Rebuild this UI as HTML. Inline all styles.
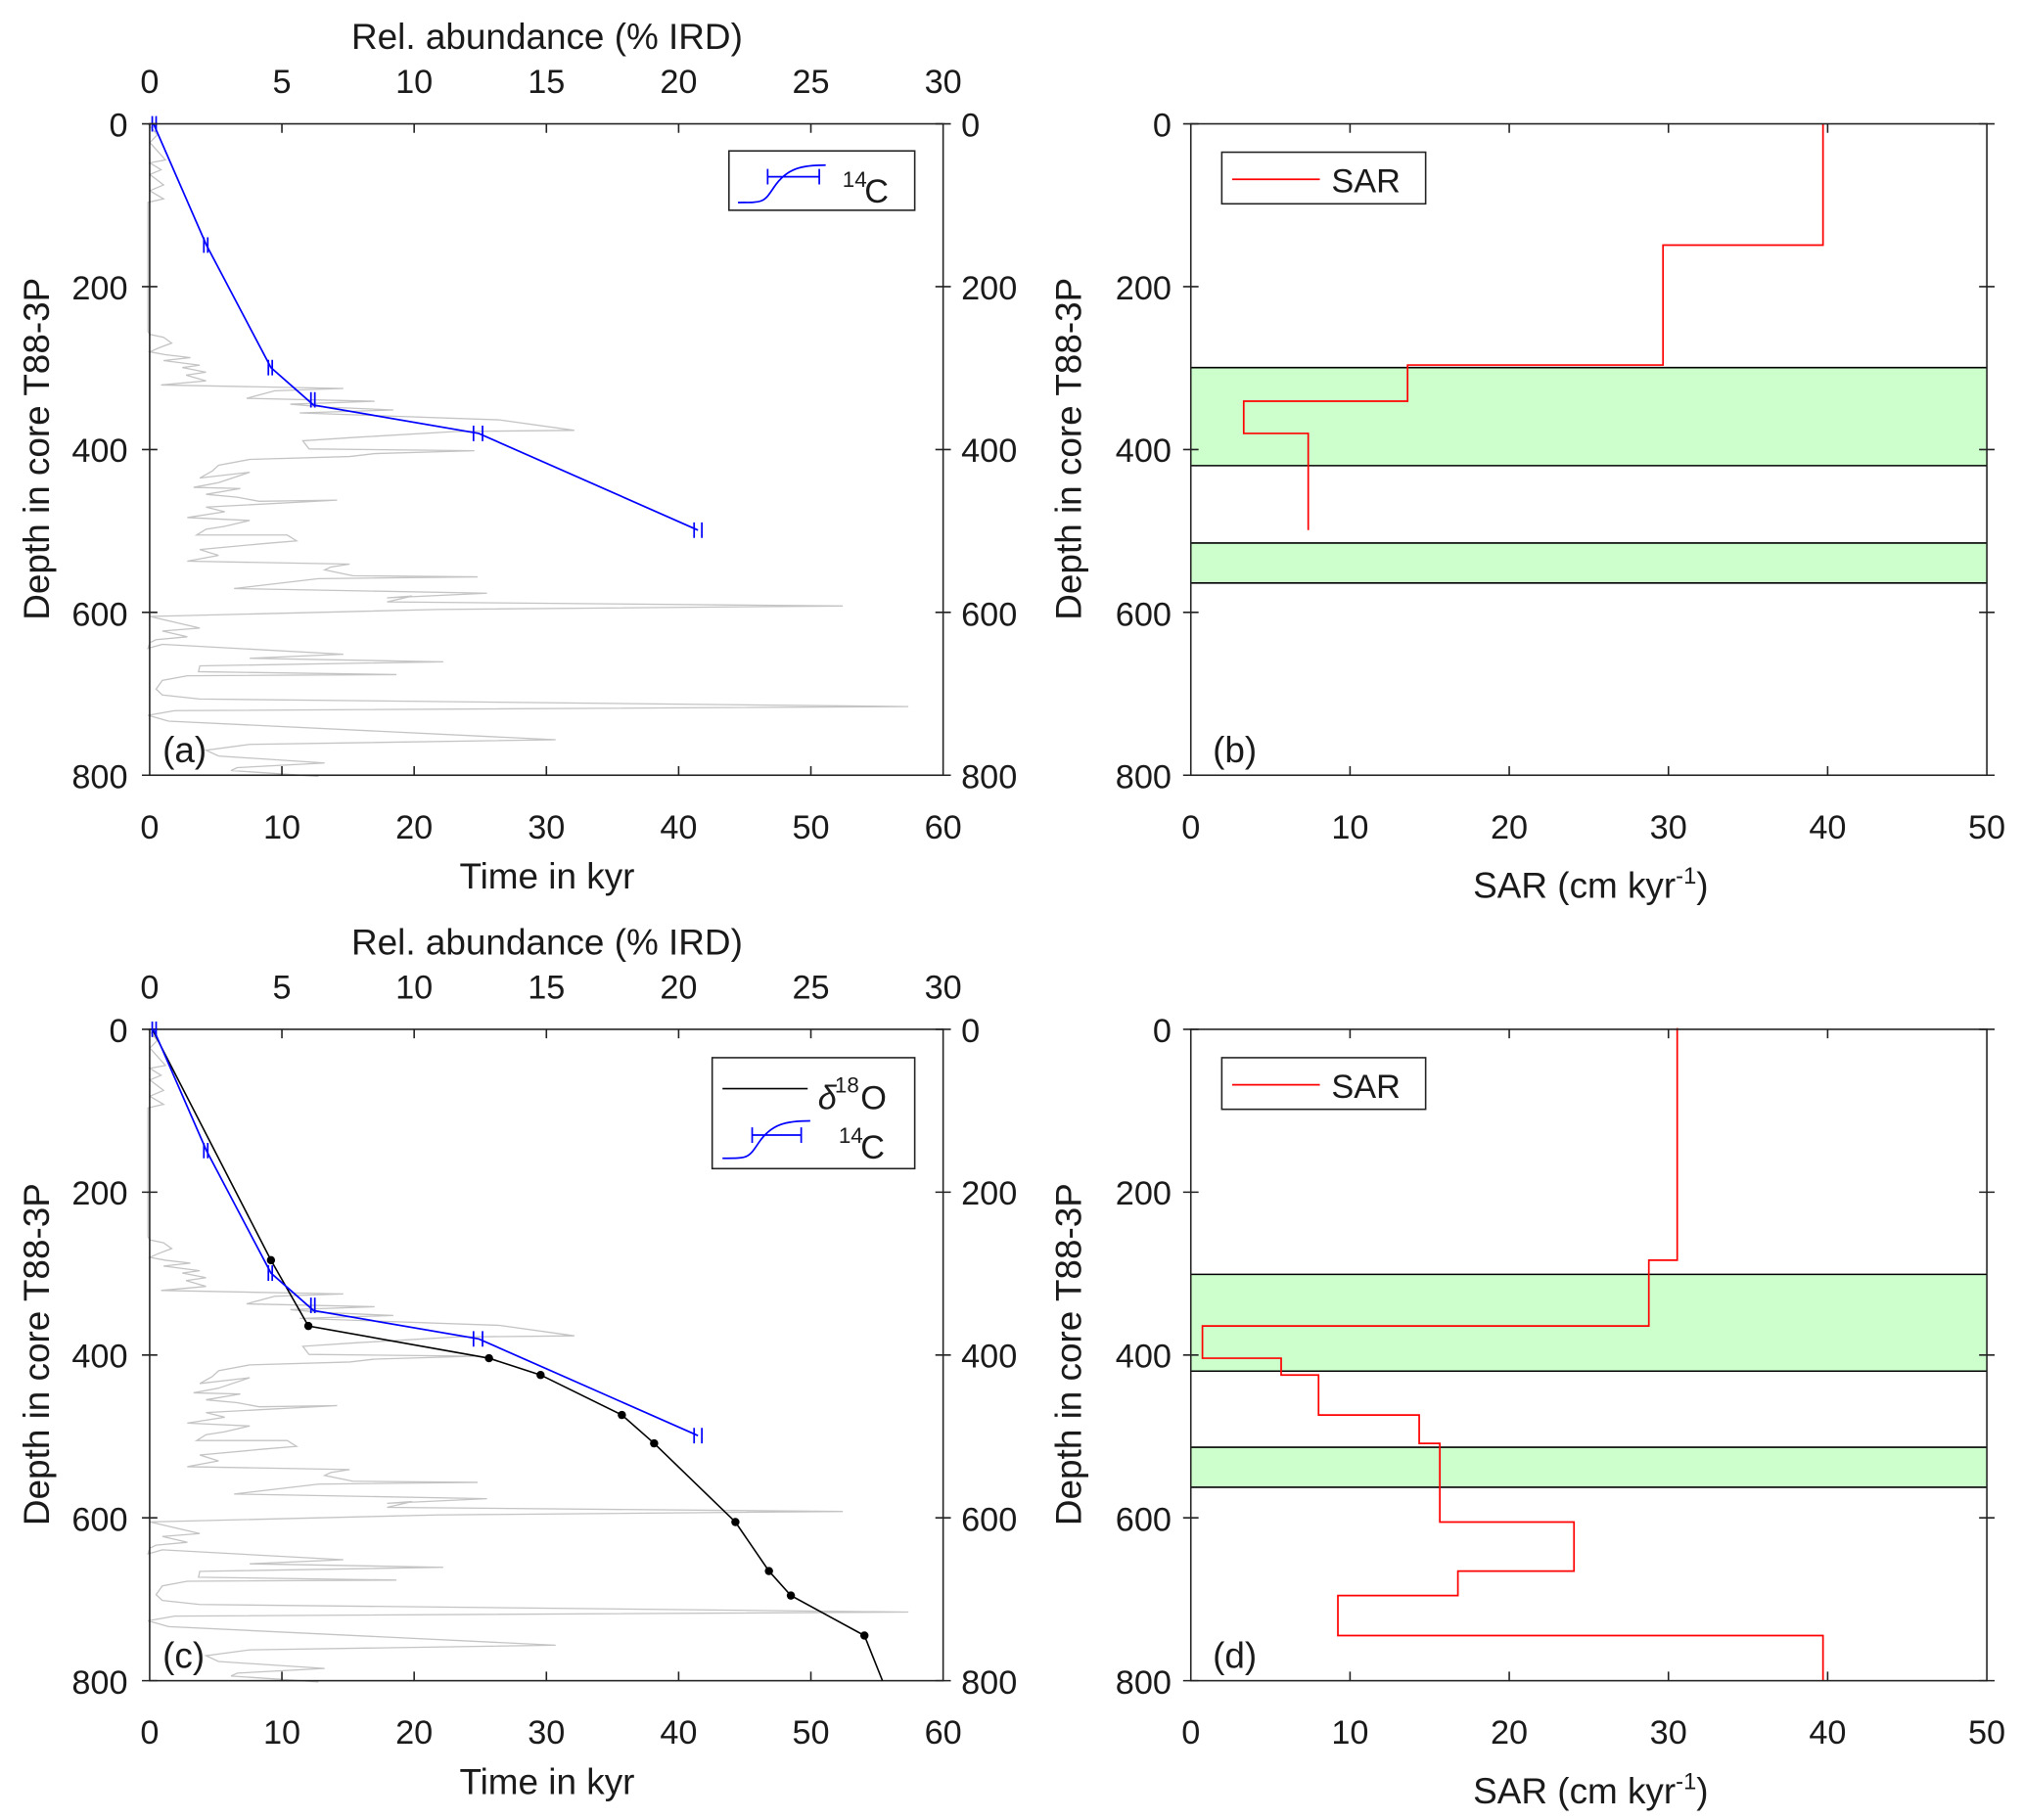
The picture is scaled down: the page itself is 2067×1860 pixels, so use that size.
<!DOCTYPE html>
<html><head><meta charset="utf-8"><style>
html,body{margin:0;padding:0;background:#fff;}
svg{display:block;}
text{font-family:"Liberation Sans",Arial,sans-serif;fill:#1a1a1a;}
.t{font-size:26px;}
.l{font-size:28px;}
.ax{fill:none;stroke:#222;stroke-width:1.2;}
.g{fill:none;stroke:#c4c4c4;stroke-width:1.3;vector-effect:non-scaling-stroke;}
.b{fill:none;stroke:#0000ff;stroke-width:1.3;}
.r{fill:none;stroke:#ff0000;stroke-width:1.3;}
.k{fill:none;stroke:#000;stroke-width:1.2;}
</style></head><body>
<svg width="2067" height="1860" viewBox="0 0 1568 1411" xmlns="http://www.w3.org/2000/svg">
<defs>
<polyline id="ird" class="g" points="237,213 252,232 240,245 265,275 240,280 258,292 240,300 262,318 240,328 262,342 237,348 237,570 240,575 262,580 275,590 255,598 240,605 265,610 305,615 262,620 320,628 292,632 330,640 298,645 330,655 258,662 550,668 440,672 395,685 600,690 465,695 520,700 630,705 480,710 800,722 920,740 730,742 570,752 485,758 495,772 760,775 600,780 560,785 400,790 350,800 340,810 320,822 400,812 350,830 310,838 385,840 330,850 380,855 415,862 540,860 330,872 360,880 300,890 400,895 360,905 330,910 315,920 460,920 475,930 420,935 320,945 350,955 300,965 560,970 530,975 520,980 565,990 765,992 510,995 375,1012 780,1020 620,1028 660,1025 620,1035 1350,1042 700,1048 240,1060 320,1080 260,1085 300,1095 250,1100 240,1105 237,1115 260,1108 550,1125 400,1132 710,1138 320,1145 318,1155 635,1160 300,1162 260,1170 250,1185 260,1195 320,1202 1455,1215 280,1222 237,1230 270,1240 890,1272 400,1280 330,1290 350,1300 520,1312 380,1320 370,1325 510,1335"/>
<g id="c14">
<polyline class="b" points="119,96 160,190 210,285 243,314 371,336 541,411"/>
<path class="b" d="M118,90v12M121,90v12M158,184v12M161,184v12M208,279v12M211,279v12M241,304v12M244,304v12M367,330v12M374,330v12M538,405v12M544,405v12"/>
</g>
<g id="lax">
<rect class="ax" x="116" y="96" width="615" height="505"/>
<path class="ax" d="M110,96h12M110,222.25h12M110,348.5h12M110,474.75h12M110,601h12M725,96h12M725,222.25h12M725,348.5h12M725,474.75h12M725,601h12
M218.5,96v7M321,96v7M423.5,96v7M526,96v7M628.5,96v7M218.5,601v-7M321,601v-7M423.5,601v-7M526,601v-7M628.5,601v-7"/>
<g class="t" text-anchor="end"><text x="99" y="106">0</text><text x="99" y="232">200</text><text x="99" y="358">400</text><text x="99" y="485">600</text><text x="99" y="611">800</text></g>
<g class="t" text-anchor="start"><text x="745" y="106">0</text><text x="745" y="232">200</text><text x="745" y="358">400</text><text x="745" y="485">600</text><text x="745" y="611">800</text></g>
<g class="t" text-anchor="middle"><text x="116" y="72">0</text><text x="218.5" y="72">5</text><text x="321" y="72">10</text><text x="423.5" y="72">15</text><text x="526" y="72">20</text><text x="628.5" y="72">25</text><text x="731" y="72">30</text>
<text x="116" y="650">0</text><text x="218.5" y="650">10</text><text x="321" y="650">20</text><text x="423.5" y="650">30</text><text x="526" y="650">40</text><text x="628.5" y="650">50</text><text x="731" y="650">60</text></g>
<text class="l" x="424" y="38" text-anchor="middle">Rel. abundance (% IRD)</text>
<text class="l" x="424" y="689" text-anchor="middle">Time in kyr</text>
<text class="l" transform="translate(38,348) rotate(-90)" text-anchor="middle">Depth in core T88-3P</text>
</g>
<g id="rax">
<path class="ax" d="M917,96h12M917,222.25h12M917,348.5h12M917,474.75h12M917,601h12M1534,96h12M1534,222.25h12M1534,348.5h12M1534,474.75h12M1534,601h12
M1046.4,96v7M1169.8,96v7M1293.2,96v7M1416.6,96v7M1046.4,601v-7M1169.8,601v-7M1293.2,601v-7M1416.6,601v-7"/>
<g class="t" text-anchor="end"><text x="908" y="106">0</text><text x="908" y="232">200</text><text x="908" y="358">400</text><text x="908" y="485">600</text><text x="908" y="611">800</text></g>
<g class="t" text-anchor="middle"><text x="923" y="650">0</text><text x="1046.4" y="650">10</text><text x="1169.8" y="650">20</text><text x="1293.2" y="650">30</text><text x="1416.6" y="650">40</text><text x="1540" y="650">50</text></g>
<text class="l" x="1233" y="696" text-anchor="middle">SAR (cm kyr<tspan font-size="18" dy="-11">-1</tspan><tspan dy="11">)</tspan></text>
<text class="l" transform="translate(838,348) rotate(-90)" text-anchor="middle">Depth in core T88-3P</text>
</g>
</defs>

<!-- Panel a -->
<use href="#ird" transform="scale(0.48389,0.45086)"/>
<use href="#c14"/>
<use href="#lax"/>
<rect class="ax" x="565" y="117" width="144" height="46" fill="#fff"/>
<path class="b" d="M572,157c20,0 20,0 28,-12c10,-15 22,-17 40,-17M595,137h40M595,131v12M635,131v12"/>
<text x="653" y="145" font-size="17">14</text><text class="t" x="670" y="157">C</text>
<text class="l" x="126" y="591">(a)</text>

<!-- Panel b -->
<rect x="923" y="285" width="617" height="76" fill="#ccffcc"/>
<rect x="923" y="421" width="617" height="31" fill="#ccffcc"/>
<path class="k" d="M923,285h617M923,361h617M923,421h617M923,452h617"/>
<polyline class="r" points="1413,96 1413,190 1289,190 1289,283 1091,283 1091,311 964,311 964,336 1014,336 1014,411"/>
<rect class="ax" x="923" y="96" width="617" height="505"/>
<use href="#rax"/>
<rect class="ax" x="947" y="118" width="158" height="40" fill="#fff"/>
<path class="r" d="M955,139h68"/>
<text class="t" x="1032" y="149">SAR</text>
<text class="l" x="940" y="591">(b)</text>

<!-- Panel c -->
<g transform="translate(0,702)">
<use href="#ird" transform="scale(0.48389,0.45086)"/>
<use href="#lax"/>
</g>
<polyline class="k" points="118,798 210,977 239,1028 379,1053 419,1066 482,1097 507,1119 570,1180 596,1218 613,1237 670,1268 684,1303"/>
<g fill="#000"><circle cx="210" cy="977" r="3.2"/><circle cx="239" cy="1028" r="3.2"/><circle cx="379" cy="1053" r="3.2"/><circle cx="419" cy="1066" r="3.2"/><circle cx="482" cy="1097" r="3.2"/><circle cx="507" cy="1119" r="3.2"/><circle cx="570" cy="1180" r="3.2"/><circle cx="596" cy="1218" r="3.2"/><circle cx="613" cy="1237" r="3.2"/><circle cx="670" cy="1268" r="3.2"/></g>
<use href="#c14" transform="translate(0,702)"/>
<rect class="ax" x="552" y="820" width="157" height="86" fill="#fff"/>
<path class="k" d="M560,844h66"/>
<text x="634" y="860" font-size="26" font-style="italic" font-family="Liberation Serif,serif">δ</text><text x="647" y="847" font-size="17">18</text><text class="t" x="667" y="860">O</text>
<path class="b" d="M560,898c20,0 20,0 28,-12c10,-15 22,-17 40,-17M583,880h38M583,874v12M621,874v12"/>
<text x="650" y="886" font-size="17">14</text><text class="t" x="667" y="898">C</text>
<text class="l" x="126" y="1293">(c)</text>

<!-- Panel d -->
<rect x="923" y="988" width="617" height="75" fill="#ccffcc"/>
<rect x="923" y="1122" width="617" height="31" fill="#ccffcc"/>
<path class="k" d="M923,988h617M923,1063h617M923,1122h617M923,1153h617"/>
<polyline class="r" points="1300,797 1300,977 1278,977 1278,1028 932,1028 932,1053 993,1053 993,1066 1022,1066 1022,1097 1100,1097 1100,1119 1116,1119 1116,1180 1220,1180 1220,1218 1130,1218 1130,1237 1037,1237 1037,1268 1413,1268 1413,1303"/>
<g transform="translate(0,702)">
<rect class="ax" x="923" y="96" width="617" height="505"/>
<use href="#rax"/>
<rect class="ax" x="947" y="118" width="158" height="40" fill="#fff"/>
<path class="r" d="M955,139h68"/>
<text class="t" x="1032" y="149">SAR</text>
<text class="l" x="940" y="591">(d)</text>
</g>
</svg>
</body></html>
